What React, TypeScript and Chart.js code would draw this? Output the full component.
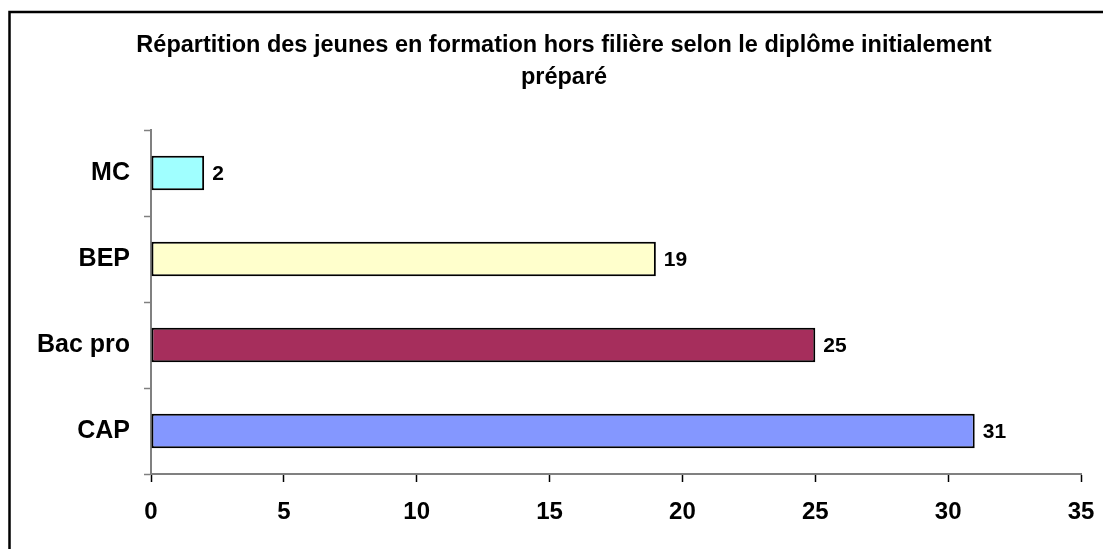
import React, { useEffect, useRef } from "react";
import { Chart, registerables } from "chart.js";

Chart.register(...registerables);

const categories = ["CAP", "Bac pro", "BEP", "MC"];
const values = [31, 25, 19, 2];
const barColors = ["#8497FF", "#A62E5C", "#FFFFCC", "#A0FFFF"];
const titleLines = [
  "Répartition des jeunes en formation hors filière selon le diplôme initialement",
  "préparé",
];
const xTickMin = 0;
const xTickMax = 35;
const xTickStep = 5;

const FONT = '"Liberation Sans", Arial, sans-serif';

export default function App() {
  const ref = useRef<HTMLCanvasElement | null>(null);

  useEffect(() => {
    if (!ref.current) return;
    const decor = {
      id: "decor",
      afterDraw(chart: any) {
        const ctx = chart.ctx;
        ctx.save();
        // outer frame (top and left visible)
        ctx.strokeStyle = "#000";
        ctx.lineWidth = 2.5;
        ctx.beginPath();
        ctx.moveTo(9.5, 560);
        ctx.lineTo(9.5, 12);
        ctx.lineTo(1120, 12);
        ctx.stroke();
        // title
        ctx.fillStyle = "#000";
        ctx.font = `bold 23.5px ${FONT}`;
        ctx.textAlign = "center";
        ctx.textBaseline = "middle";
        titleLines.forEach((t, i) => {
          ctx.fillText(t, 564, 46 + i * 32);
        });
        // data labels
        const meta = chart.getDatasetMeta(0);
        ctx.font = `bold 21px ${FONT}`;
        ctx.textAlign = "left";
        meta.data.forEach((el: any, i: number) => {
          ctx.fillText(String(values[i]), el.x + 8, el.y + 1);
        });
        ctx.restore();
      },
    };

    const chart = new Chart(ref.current, {
      type: "bar",
      data: {
        labels: categories,
        datasets: [
          {
            data: values,
            backgroundColor: barColors,
            borderColor: "#000",
            borderWidth: 2,
            borderSkipped: false,
            barPercentage: 0.4,
            categoryPercentage: 1,
          },
        ],
      },
      options: {
        indexAxis: "y",
        animation: false,
        responsive: false,
        maintainAspectRatio: false,
        layout: { padding: { top: 130, right: 22, left: 0, bottom: 0 } },
        plugins: {
          legend: { display: false },
          title: { display: false },
          tooltip: { enabled: false },
        },
        scales: {
          x: {
            type: "linear",
            min: xTickMin,
            max: xTickMax,
            ticks: {
              stepSize: xTickStep,
              color: "#000",
              font: { family: FONT, size: 24, weight: "bold" },
              padding: 16,
            },
            grid: {
              drawOnChartArea: false,
              tickLength: 8,
              tickColor: "#000",
              tickWidth: 1.5,
            },
            border: { color: "#808080", width: 2 },
            afterFit(scale: any) {
              scale.height = 75;
              scale.paddingLeft = 0;
              scale.paddingRight = 0;
            },
          },
          y: {
            type: "category",
            reverse: true,
            ticks: {
              color: "#000",
              font: { family: FONT, size: 25, weight: "bold" },
              padding: 14,
            },
            grid: {
              drawOnChartArea: false,
              tickLength: 7,
              tickColor: "#808080",
              tickWidth: 1.5,
              offset: true,
            },
            border: { color: "#808080", width: 2 },
            afterFit(scale: any) {
              scale.width = 151;
              scale.paddingTop = 0;
              scale.paddingBottom = 0;
            },
          },
        },
      },
      plugins: [decor],
    });
    return () => chart.destroy();
  }, []);

  return (
    <div style={{ position: "fixed", left: 0, top: 0, width: 1103, height: 549, background: "#fff" }}>
      <canvas ref={ref} width={1103} height={549} />
    </div>
  );
}
